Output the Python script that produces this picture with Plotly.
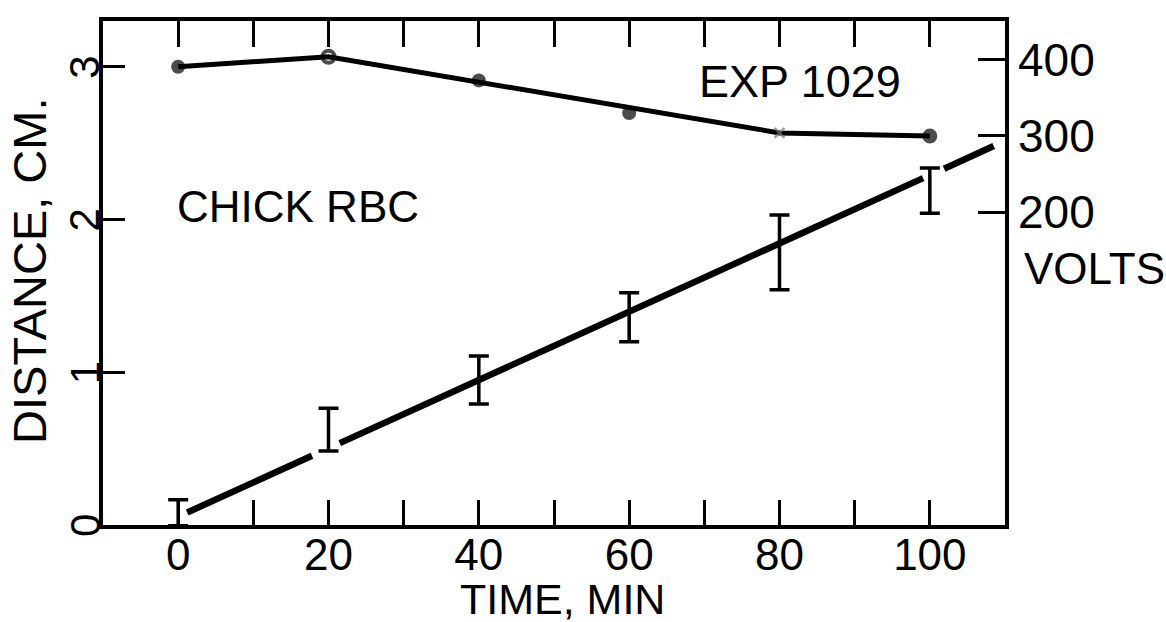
import plotly.graph_objects as go

# ---- data ----
time_min = [0, 20, 40, 60, 80, 100]
distance_cm = [0.08, 0.625, 0.95, 1.36, 1.785, 2.19]
distance_err = [0.085, 0.14, 0.157, 0.16, 0.245, 0.148]

# drawn regression line for distance (broken where it meets the error bars)
fit_t = [1.2, 17.8, None, 21.5, 99.1, None, 101.9, 108.5]
fit_d = [0.082, 0.453, None, 0.536, 2.271, None, 2.333, 2.481]

volts_t = [0, 20, 40, 60, 80, 100]
volts = [391, 404, 373, 330, 304, 300]
volts_symbols = ["circle", "circle-open", "circle", "circle", "x-thin-open", "circle"]
volts_line_t = [0, 20, 80, 100]
volts_line_v = [391, 404, 304, 300]

x_ticks = [0, 20, 40, 60, 80, 100]
x_ticktext = ["0", "20", "40", "60", "80", "100"]
top_ticks = [0, 10, 20, 30, 40, 50, 60, 70, 80, 90, 100]
y_ticks = [0, 1, 2, 3]
y_ticktext = ["0", "1", "2", "3"]
v_ticks = [200, 300, 400]
v_ticktext = ["200", "300", "400"]

FONT = "Liberation Sans"
INK = "#000000"

fig = go.Figure()

# distance error bars (no marker)
fig.add_trace(go.Scatter(
    x=time_min, y=distance_cm, mode="markers",
    marker=dict(size=1, color="rgba(0,0,0,0)"),
    error_y=dict(type="data", array=distance_err, visible=True,
                 color=INK, thickness=3.5, width=10),
    xaxis="x", yaxis="y", showlegend=False, hoverinfo="skip"))

# regression line through distance data
fig.add_trace(go.Scatter(
    x=fit_t, y=fit_d, mode="lines",
    line=dict(color=INK, width=6.5),
    connectgaps=False, xaxis="x", yaxis="y", showlegend=False))

# volts line
fig.add_trace(go.Scatter(
    x=volts_line_t, y=volts_line_v, mode="lines",
    line=dict(color=INK, width=5),
    xaxis="x2", yaxis="y2", showlegend=False))

# volts points
fig.add_trace(go.Scatter(
    x=volts_t, y=volts, mode="markers",
    marker=dict(symbol=volts_symbols, size=[14, 12, 14, 14, 10, 15],
                color=[INK, INK, INK, INK, "#777777", INK],
                line=dict(color=[INK, INK, INK, INK, "#777777", INK],
                          width=[0, 4, 0, 0, 2.5, 0])),
    xaxis="x2", yaxis="y2", showlegend=False))

annotations = [
    dict(text="TIME, MIN", xref="paper", yref="paper", x=0.509, y=-0.1468,
         showarrow=False, font=dict(family=FONT, size=43, color=INK),
         xanchor="center", yanchor="middle"),
    dict(text="DISTANCE, CM.", xref="paper", yref="paper", x=-0.081, y=0.504,
         showarrow=False, textangle=-90, font=dict(family=FONT, size=47, color=INK),
         xanchor="center", yanchor="middle"),
    dict(text="VOLTS", xref="paper", yref="paper", x=1.0987, y=0.508,
         showarrow=False, font=dict(family=FONT, size=44, color=INK),
         xanchor="center", yanchor="middle"),
    dict(text="EXP 1029", xref="paper", yref="paper", x=0.7727, y=0.879,
         showarrow=False, font=dict(family=FONT, size=45, color=INK),
         xanchor="center", yanchor="middle"),
    dict(text="CHICK RBC", xref="paper", yref="paper", x=0.216, y=0.631,
         showarrow=False, font=dict(family=FONT, size=44, color=INK),
         xanchor="center", yanchor="middle"),
]
# left-axis tick labels, turned like the axis title
for val, txt in zip(y_ticks, y_ticktext):
    annotations.append(dict(
        text=txt, xref="paper", yref="y", x=-0.02, y=val,
        showarrow=False, textangle=-90, font=dict(family=FONT, size=42, color=INK),
        xanchor="center", yanchor="middle"))

fig.update_layout(
    width=1166, height=622,
    margin=dict(l=103, r=161, t=21, b=97, autoexpand=False),
    paper_bgcolor="white", plot_bgcolor="white",
    font=dict(family=FONT, color=INK),
    xaxis=dict(
        range=[-10, 110], showgrid=False, zeroline=False,
        showline=True, mirror=True, linecolor=INK, linewidth=3.5,
        tickvals=x_ticks, ticktext=x_ticktext,
        ticks="inside", ticklen=25, tickwidth=3, tickcolor=INK,
        minor=dict(dtick=10, tick0=0, ticks="inside", ticklen=25, tickwidth=3, tickcolor=INK),
        tickfont=dict(family=FONT, size=44, color=INK), ticklabelstandoff=-12,
        automargin=False,
    ),
    xaxis2=dict(
        range=[-10, 110], overlaying="x", side="top", anchor="y2",
        showgrid=False, zeroline=False, showline=False,
        tickvals=top_ticks, ticks="inside", ticklen=26, tickwidth=3, tickcolor=INK,
        showticklabels=False, automargin=False,
    ),
    yaxis=dict(
        range=[0, 3.3], showgrid=False, zeroline=False,
        showline=True, mirror=True, linecolor=INK, linewidth=3.5,
        tickvals=y_ticks, showticklabels=False,
        ticks="inside", ticklen=22, tickwidth=3, tickcolor=INK,
        automargin=False,
    ),
    yaxis2=dict(
        range=[-211, 451], overlaying="y", side="right", anchor="x2",
        showgrid=False, zeroline=False, showline=False,
        tickvals=v_ticks, ticktext=v_ticktext,
        ticks="inside", ticklen=27, tickwidth=3, tickcolor=INK,
        tickfont=dict(family=FONT, size=46, color=INK),
        ticklabelstandoff=12, automargin=False,
    ),
    shapes=[
        # small break in the bottom axis around the first error bar
        dict(type="line", xref="x", yref="y", x0=-3.3, x1=-1.6, y0=0, y1=0,
             line=dict(color="white", width=7), layer="above"),
        dict(type="line", xref="x", yref="y", x0=1.6, x1=3.2, y0=0, y1=0,
             line=dict(color="white", width=7), layer="above"),
    ],
    annotations=annotations,
)

fig.write_html("out.html", config={"displayModeBar": False},
               post_script="document.body.style.margin='0px';")
